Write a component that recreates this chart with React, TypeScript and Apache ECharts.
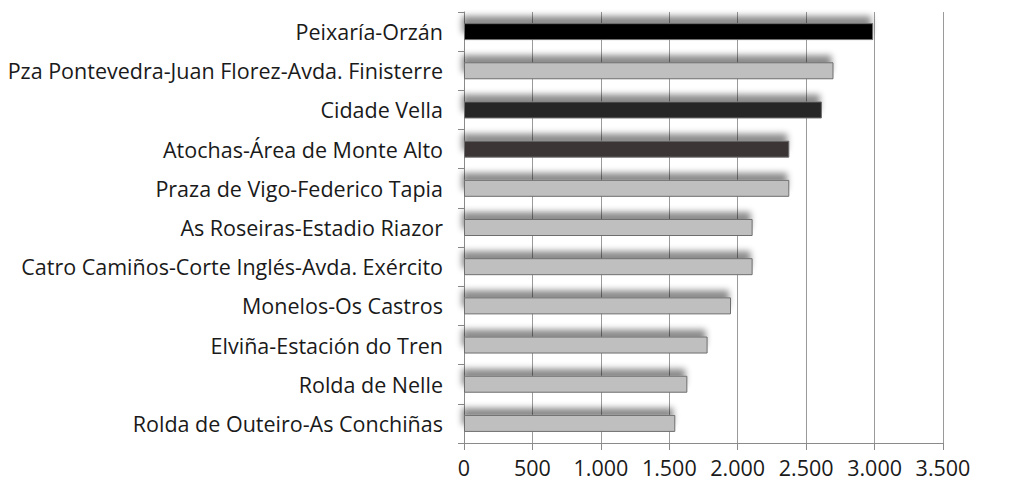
import React, { useEffect, useRef } from "react";
import * as echarts from "echarts";

const categories = [
  "Peixaría-Orzán",
  "Pza Pontevedra-Juan Florez-Avda. Finisterre",
  "Cidade Vella",
  "Atochas-Área de Monte Alto",
  "Praza de Vigo-Federico Tapia",
  "As Roseiras-Estadio Riazor",
  "Catro Camiños-Corte Inglés-Avda. Exército",
  "Monelos-Os Castros",
  "Elviña-Estación do Tren",
  "Rolda de Nelle",
  "Rolda de Outeiro-As Conchiñas",
];
const values = [2990, 2700, 2615, 2377, 2377, 2109, 2109, 1951, 1780, 1632, 1544];
const barColors = [
  "#000000",
  "#bfbfbf",
  "#262626",
  "#3a3535",
  "#bfbfbf",
  "#bfbfbf",
  "#bfbfbf",
  "#bfbfbf",
  "#bfbfbf",
  "#bfbfbf",
  "#bfbfbf",
];

const fmt = (v: number) => String(v).replace(/\B(?=(\d{3})+(?!\d))/g, ".");

export default function App() {
  const ref = useRef<HTMLDivElement>(null);
  useEffect(() => {
    const chart = echarts.init(ref.current!, null, { renderer: "svg" });
    chart.setOption({
      animation: false,
      backgroundColor: "#ffffff",
      textStyle: { fontFamily: "Open Sans" },
      grid: { left: 464, right: 67, top: 12, bottom: 41, containLabel: false },
      xAxis: {
        type: "value",
        min: 0,
        max: 3500,
        interval: 500,
        axisLine: { show: true, lineStyle: { color: "#8a8a8a", width: 1 } },
        axisTick: { show: true, length: 7, lineStyle: { color: "#8a8a8a" } },
        splitLine: { show: true, lineStyle: { color: "#9a9a9a", width: 1 } },
        axisLabel: {
          formatter: (v: number) => fmt(v),
          color: "#1a1a1a",
          fontSize: 21.5,
          lineHeight: 22,
          margin: 13,
          fontFamily: "Open Sans",
        },
      },
      yAxis: {
        type: "category",
        inverse: true,
        data: categories,
        axisLine: { show: true, lineStyle: { color: "#8a8a8a", width: 1 } },
        axisTick: { show: true, length: 6, alignWithLabel: false, lineStyle: { color: "#8a8a8a" } },
        axisLabel: {
          color: "#1a1a1a",
          fontSize: 21.5,
          margin: 21,
          fontFamily: "Open Sans",
        },
      },
      series: [
        {
          type: "bar",
          barWidth: 17,
          data: values.map((v, i) => ({
            value: v,
            itemStyle: {
              color: barColors[i],
              borderColor: "#6e6e6e",
              borderWidth: 1,
              shadowBlur: 6,
              shadowOffsetY: -7,
              shadowOffsetX: -2,
              shadowColor: "rgba(0,0,0,0.45)",
            },
          })),
        },
      ],
    });
    return () => chart.dispose();
  }, []);
  return <div ref={ref} style={{ width: 1010, height: 484, position: "absolute", left: 0, top: 0 }} />;
}
